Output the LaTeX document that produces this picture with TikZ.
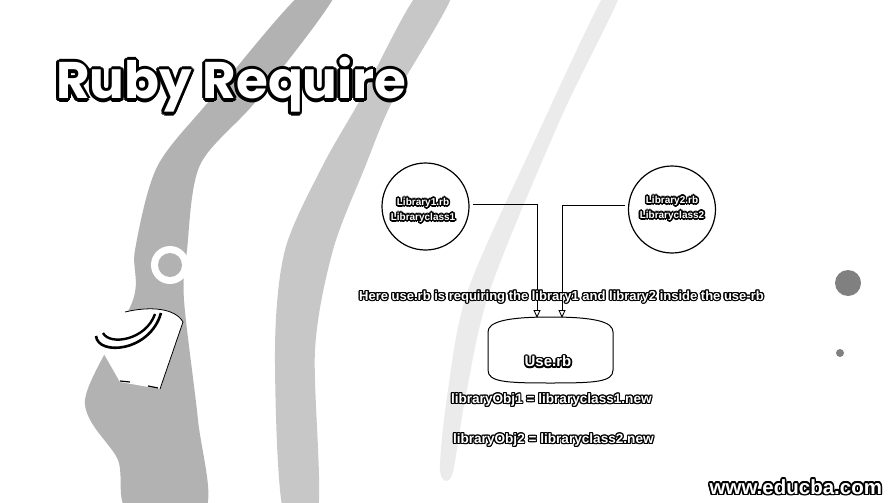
\documentclass[tikz,border=0pt]{standalone}
\usepackage{fontspec}
\setmainfont{Liberation Sans}
\newfontfamily\titlefont{Poppins}
\usetikzlibrary{arrows.meta,calc}
\newbox\halobox
\newcommand\halo[2][1pt]{%
  \setbox\halobox=\hbox{#2}%
  \foreach \ang in {0,30,...,330}{%
    \pgfmathsetlengthmacro\hxx{#1*cos(\ang)}%
    \pgfmathsetlengthmacro\hyy{#1*sin(\ang)}%
    \rlap{\hskip\hxx\raisebox{\hyy}{\color{black}\copy\halobox}}}%
  {\color{white}\copy\halobox}}
\tikzset{
  every node/.style={inner sep=0pt, outer sep=0pt},
  libcirc/.style={circle, draw=black, line width=1.2pt, fill=white, minimum size=87pt},
  libtext/.style={align=center, font=\bfseries\fontsize{10}{15}\selectfont},
  conn/.style={draw=black, line width=0.9pt, -{Triangle[open, width=7pt, length=8pt]}},
  cyl/.style={draw=black, line width=1pt, fill=white},
  bandA/.style={fill=black!30},
  bandB/.style={fill=black!22},
  bandC/.style={fill=black!8},
}
\begin{document}
\begin{tikzpicture}[x=1pt,y=-1pt]
\useasboundingbox (0,0) rectangle (894,503);
\fill[white] (0,0) rectangle (894,503);
% background bands
\fill[bandC] plot[smooth cycle] coordinates {(604,-5)(620,-5)(560,120)(490,290)(465,400)(452,475)(440,470)(448,390)(468,290)(535,140)};
\fill[bandB] plot[smooth cycle] coordinates {(417,-5)(452,-5)(393,100)(365,167)(333,250)(315,350)(318,510)(283,510)(275,350)(285,250)(322,167)(360,100)};
\fill[bandA] plot[smooth cycle] coordinates {(300,-5)(335,-5)(257,100)(200,165)(187,250)(184,300)(198,420)(205,510)(128,510)(118,460)(85,400)(133,300)(135,250)(157,167)(210,100)};
\fill[white] (170,265) circle (19);
\fill[black!30] (170,265) circle (12);
% lamp-like decoration
\fill[white] (125,312) .. controls (150,306) and (175,308) .. (183,322) -- (160,389) -- (120,382) -- (96,340) -- cycle;
\draw[line width=0.8pt] (125,312) .. controls (150,306) and (175,308) .. (183,322) -- (160,389);
\draw[line width=2.6pt] (96,336) .. controls (98,356) and (150,352) .. (161,313);
\draw[line width=2.4pt] (103,333) .. controls (110,346) and (146,340) .. (155,314);
\draw[line width=1.2pt] (120,381) -- (130,382) (148,386) -- (158,388);
% right decorations
\fill[black!50] (848,283) circle (13);
\fill[black!50] (840,353) circle (4);
% title
\node[anchor=base west] (title) at (56,99) {\halo[3pt]{\titlefont\bfseries\fontsize{51.5}{60}\selectfont Ruby Require}};
% library circles
\node[libcirc] (c1) at (425.5,206.5) {};
\node[libcirc] (c2) at (672,209.5) {};
\node[libtext] (c1t) at (423,210.5) {\halo[1.6pt]{Library1.rb}\\\halo[1.6pt]{Libraryclass1}};
\node[libtext] (c2t) at (672,208.5) {\halo[1.6pt]{Library2.rb}\\\halo[1.6pt]{Libraryclass2}};
% target shape
\node[minimum width=125pt, minimum height=66pt] (u) at (550.5,350) {};
\draw[cyl, shift={(u.center)}] (-62.5,-18) -- (-62.5,20) .. controls (-62.5,32) and (-45,33) .. (0,33)
  .. controls (45,33) and (62.5,32) .. (62.5,20) -- (62.5,-18) .. controls (62.5,-28) and (45,-33) .. (0,-33)
  .. controls (-45,-33) and (-62.5,-28) .. cycle;
\coordinate (t1) at (537,318);
\coordinate (t2) at (562,318);
\draw[conn] ($(c1.east)+(4,-2.5)$) -| (t1);
\draw[conn] ($(c2.west)+(-4,-4.5)$) -| (t2);
\node (ut) at (548,361.5) {\halo[1.6pt]{\bfseries\fontsize{15}{18}\selectfont Use.rb}};
% caption
\node (cap) at (561.5,297) {\halo[1.3pt]{\bfseries\fontsize{13}{15}\selectfont Here use.rb is requiring the library1 and library2 inside the use-rb}};
\node[anchor=west] (o1) at (451,400) {\halo[1.1pt]{\bfseries\fontsize{13.6}{15}\selectfont libraryObj1 = libraryclass1.new}};
\node[anchor=west] (o2) at (453,440) {\halo[1.1pt]{\bfseries\fontsize{13.6}{15}\selectfont libraryObj2 = libraryclass2.new}};
\node[anchor=east] (w) at (882,487) {\halo[1.6pt]{\bfseries\fontsize{20.5}{24}\selectfont www.educba.com}};
\end{tikzpicture}
\end{document}
